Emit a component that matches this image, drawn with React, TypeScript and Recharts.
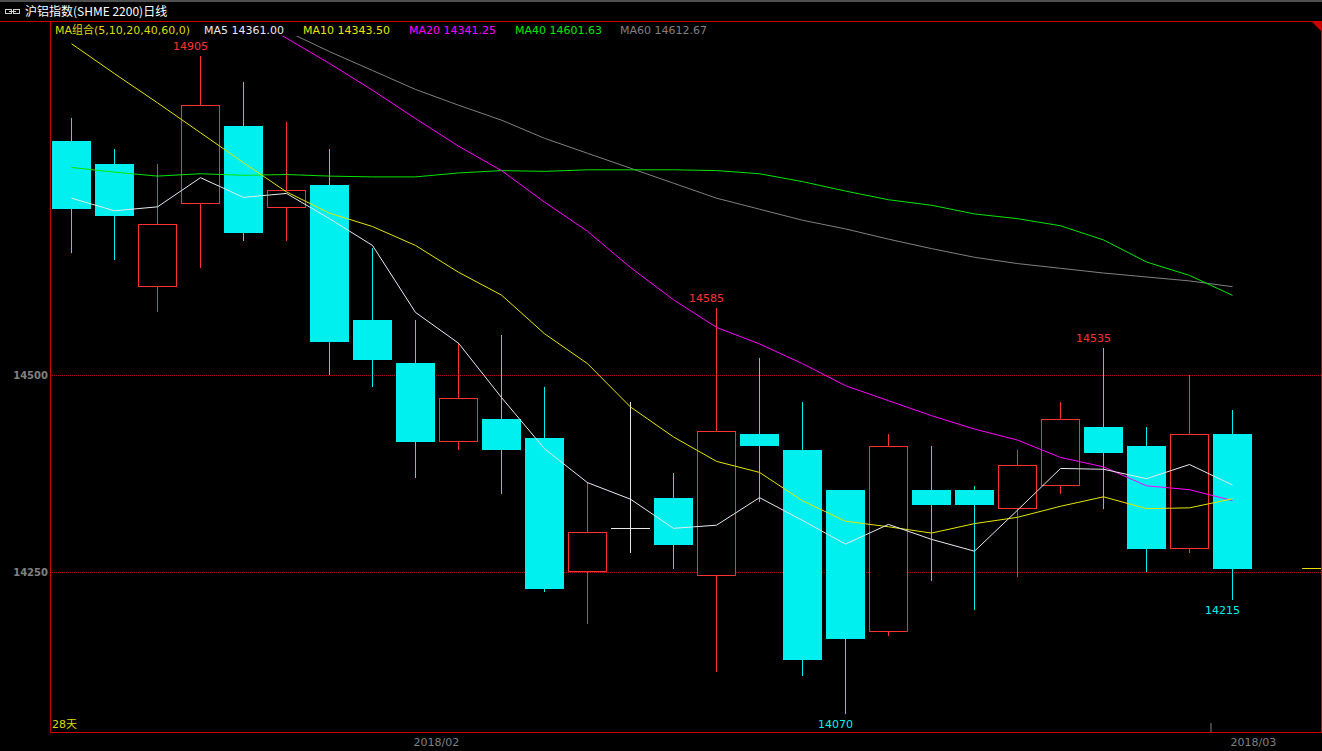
import { ComposedChart, Bar, Line, XAxis, YAxis, CartesianGrid, ReferenceLine } from 'recharts'

const opens = [14797, 14768, 14612, 14717, 14817, 14712, 14742, 14571, 14516, 14415, 14445, 14421, 14250, 14306, 14345, 14245, 14426, 14406, 14355, 14175, 14355, 14355, 14330, 14360, 14435, 14411, 14280, 14426]
const highs = [14827, 14788, 14768, 14905, 14873, 14822, 14788, 14662, 14571, 14541, 14551, 14486, 14365, 14466, 14376, 14585, 14522, 14466, 14355, 14426, 14411, 14360, 14406, 14466, 14535, 14435, 14501, 14456]
const lows = [14656, 14646, 14581, 14637, 14671, 14671, 14500, 14485, 14370, 14405, 14350, 14225, 14184, 14275, 14255, 14124, 14340, 14119, 14070, 14170, 14239, 14203, 14244, 14350, 14330, 14250, 14275, 14215]
const closes = [14711, 14702, 14692, 14843, 14681, 14736, 14542, 14520, 14415, 14471, 14405, 14229, 14301, 14306, 14285, 14429, 14411, 14139, 14165, 14411, 14335, 14335, 14386, 14445, 14401, 14280, 14426, 14255]

const ma5 = [14725, 14709, 14714, 14751, 14726, 14731, 14699, 14665, 14580, 14541, 14472, 14407, 14364, 14343, 14306, 14310, 14345, 14316, 14286, 14311, 14292, 14277, 14329, 14382, 14381, 14369, 14387, 14361]
const ma10 = [14921, 14883, 14846, 14808, 14770, 14733, 14706, 14689, 14665, 14631, 14602, 14553, 14515, 14460, 14422, 14391, 14377, 14341, 14315, 14308, 14300, 14312, 14320, 14334, 14346, 14331, 14332, 14343.5]
const ma20 = [null, null, null, null, 14959, 14928, 14896, 14862, 14826, 14791, 14760, 14720, 14683, 14637, 14596, 14561, 14540, 14515, 14487, 14468, 14449, 14432, 14418, 14396, 14384, 14360, 14355, 14341.25]
const ma40 = [14764, 14758, 14753, 14756, 14754, 14755, 14753, 14752, 14752, 14757, 14760, 14759, 14761, 14761, 14761, 14760, 14756, 14746, 14734, 14723, 14716, 14705, 14699, 14690, 14672, 14644, 14627, 14601.63]
const ma60 = [null, null, null, null, 14962, 14937, 14911, 14887, 14863, 14843, 14824, 14801, 14782, 14763, 14744, 14725, 14711, 14697, 14686, 14673, 14661, 14650, 14642, 14636, 14630, 14625, 14620, 14612.67]

const highMarks = [3, 15, 24]
const lowMarks = [18, 27]
const yTicks = [14250, 14500]
const xTicks = [8, 27]
const xTickLabels = ['2018/02', '2018/03']
const monthEdge = 26.5
const maNames = ['MA5', 'MA10', 'MA20', 'MA40', 'MA60']
const maLast = ['14361.00', '14343.50', '14341.25', '14601.63', '14612.67']

const UP = '#ff3232'
const DOWN = '#00efef'
const FRAME = '#c80000'
const maColors = ['#e8e8f0', '#e6e600', '#ff00ff', '#00e600', '#808080']
const legendX = [204, 303, 409, 515, 620]
const FONT = "'DejaVu Sans', 'Noto Sans CJK SC', sans-serif"

const data = opens.map((open, i) => ({
  i,
  open,
  high: highs[i],
  low: lows[i],
  close: closes[i],
  range: [lows[i], highs[i]],
  ma5: ma5[i],
  ma10: ma10[i],
  ma20: ma20[i],
  ma40: ma40[i],
  ma60: ma60[i],
}))

function Candle(props: any) {
  const { x, y, width, height, payload } = props
  const { open, close, high, low, i } = payload
  const py = (v: number) => y + ((high - v) / (high - low)) * height
  const cx = Math.floor(x + width / 2) + 0.5
  const left = cx - 19.5
  const top = Math.round(py(Math.max(open, close)))
  const bottom = Math.round(py(Math.min(open, close)))
  const hy = Math.round(py(high))
  const ly = Math.round(py(low))
  let body
  if (close < open) {
    body = (
      <g>
        <line x1={cx} x2={cx} y1={hy} y2={ly} stroke={DOWN} />
        <rect x={left} y={top} width={39} height={Math.max(1, bottom - top)} fill={DOWN} />
      </g>
    )
  } else if (close > open) {
    body = (
      <g>
        <line x1={cx} x2={cx} y1={hy} y2={top} stroke={UP} />
        <line x1={cx} x2={cx} y1={bottom} y2={ly} stroke={UP} />
        <rect x={left + 0.5} y={top + 0.5} width={38} height={bottom - top - 1} fill="#000" stroke={UP} />
      </g>
    )
  } else {
    body = (
      <g>
        <line x1={cx} x2={cx} y1={hy} y2={ly} stroke="#e6e6e6" />
        <line x1={left} x2={left + 39} y1={top + 0.5} y2={top + 0.5} stroke="#e6e6e6" />
      </g>
    )
  }
  return (
    <g shapeRendering="crispEdges">
      {body}
      {highMarks.includes(i) && (
        <text x={cx - 10} y={hy - 6} textAnchor="middle" fill={UP} fontSize={11} fontFamily={FONT}>{high}</text>
      )}
      {lowMarks.includes(i) && (
        <text x={cx - 10} y={ly + 14} textAnchor="middle" fill={DOWN} fontSize={11} fontFamily={FONT}>{low}</text>
      )}
    </g>
  )
}

function MonthTick({ x, y, payload }: any) {
  const label = xTickLabels[xTicks.indexOf(payload.value)]
  return (
    <text x={x - 2} y={y + 14} fill="#808080" fontSize={11} fontFamily={FONT}>{label}</text>
  )
}

export default function App() {
  return (
    <div style={{ position: 'fixed', left: 0, top: 0, width: 1322, height: 751, background: '#000', overflow: 'hidden' }}>
      <ComposedChart width={1322} height={751} data={data} margin={{ top: 36, right: 1, bottom: 0, left: 0 }}>
        <CartesianGrid
          vertical={false}
          horizontalValues={yTicks}
          stroke="#b00000"
          strokeDasharray="1 1"
          shapeRendering="crispEdges"
        />
        <XAxis
          dataKey="i"
          type="number"
          domain={[-0.5, 29.058]}
          allowDataOverflow
          ticks={xTicks}
          interval={0}
          tick={<MonthTick />}
          tickSize={0}
          tickMargin={0}
          axisLine={false}
          tickLine={false}
          height={19}
        />
        <YAxis
          type="number"
          domain={[14047.55, 14930.8]}
          allowDataOverflow
          ticks={yTicks}
          width={50}
          tickSize={0}
          tickMargin={2}
          axisLine={false}
          tickLine={false}
          tick={{ fill: '#808080', fontSize: 10, fontWeight: 'bold', fontFamily: FONT }}
        />
        <Bar dataKey="range" barSize={39} shape={<Candle />} isAnimationActive={false} />
        <Line type="linear" dataKey="ma60" stroke={maColors[4]} dot={false} isAnimationActive={false} />
        <Line type="linear" dataKey="ma40" stroke={maColors[3]} dot={false} isAnimationActive={false} />
        <Line type="linear" dataKey="ma20" stroke={maColors[2]} dot={false} isAnimationActive={false} />
        <Line type="linear" dataKey="ma10" stroke={maColors[1]} dot={false} isAnimationActive={false} />
        <Line type="linear" dataKey="ma5" stroke={maColors[0]} dot={false} isAnimationActive={false} />
        <ReferenceLine segment={[{ x: 28.62, y: closes[27] }, { x: 29.058, y: closes[27] }]} stroke="#e6e600" />
        <ReferenceLine segment={[{ x: monthEdge, y: 14047.55 }, { x: monthEdge, y: 14059 }]} stroke="#808080" />
      </ComposedChart>
      <svg width={1322} height={751} style={{ position: 'absolute', left: 0, top: 0, pointerEvents: 'none' }}>
        <rect x={0} y={0} width={1322} height={2} fill="#505050" />
        <g stroke="#d0d0d0" fill="none" shapeRendering="crispEdges">
          <rect x={5.5} y={9.5} width={6} height={4} />
          <rect x={13.5} y={9.5} width={6} height={4} />
          <line x1={9} x2={16} y1={11.5} y2={11.5} />
        </g>
        <text x={25} y={16} fill="#fff" fontSize={12} fontFamily="'Noto Sans CJK SC', sans-serif">沪铝指数(SHME 2200)日线</text>
        <path d="M0 21.5H1322M50.5 21V732M50 732.5H1322M1321.5 21V732" stroke={FRAME} fill="none" shapeRendering="crispEdges" />
        <path d="M1311 21H1322V32Z" fill={FRAME} />
        <text x={55} y={34} fill="#dcdc00" fontSize={11} fontFamily={FONT}>MA组合(5,10,20,40,60,0)</text>
        {maNames.map((name, k) => (
          <text key={name} x={legendX[k]} y={34} fill={maColors[k]} fontSize={11} fontFamily={FONT}>
            {name} {maLast[k]}
          </text>
        ))}
        <text x={52} y={728} fill="#dcdc00" fontSize={11} fontFamily={FONT}>28天</text>
      </svg>
    </div>
  )
}
